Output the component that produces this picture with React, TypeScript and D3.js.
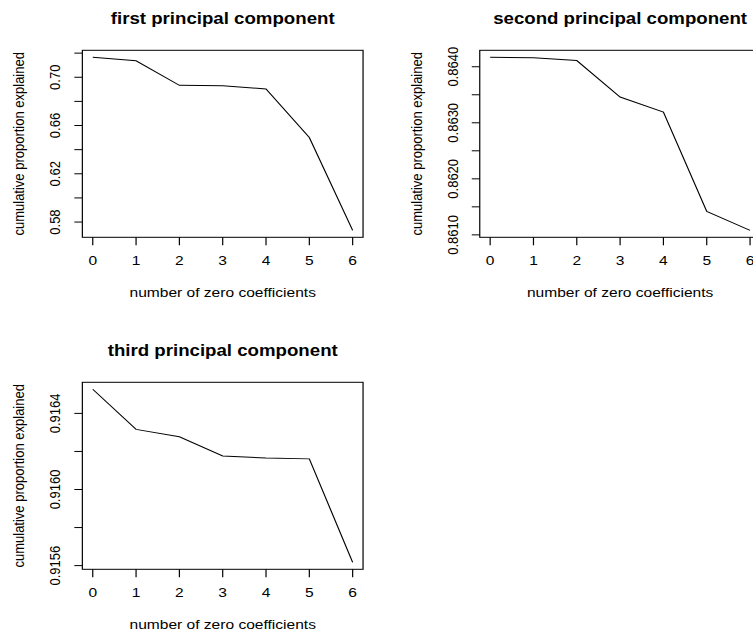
import React from 'react';
import * as d3 from 'd3';

// number of zero coefficients (x axis)
const zeroCoefs = [0, 1, 2, 3, 4, 5, 6];

// cumulative proportion explained
const firstPC = [0.7166, 0.7136, 0.6933, 0.693, 0.6903, 0.6501, 0.5731];
const secondPC = [0.86417, 0.86416, 0.86411, 0.86346, 0.86319, 0.86142, 0.86108];
const thirdPC = [0.916527, 0.916316, 0.916277, 0.916176, 0.916166, 0.916161, 0.915617];

// y ticks and which of them carry a label (R drops overlapping ones)
const firstTicks = [0.58, 0.6, 0.62, 0.64, 0.66, 0.68, 0.7, 0.72];
const firstLabels = ['0.58', '0.62', '0.66', '0.70'];
const secondTicks = [0.861, 0.8615, 0.862, 0.8625, 0.863, 0.8635, 0.864];
const secondLabels = ['0.8610', '0.8620', '0.8630', '0.8640'];
const thirdTicks = [0.9156, 0.9158, 0.916, 0.9162, 0.9164];
const thirdLabels = ['0.9156', '0.9160', '0.9164'];

const titles = ['first principal component', 'second principal component', 'third principal component'];
const xTitle = 'number of zero coefficients';
const yTitle = 'cumulative proportion explained';

// the picture is stretched sideways a little, so draw in square panels and scale x
const SX = 1.197;
const PANEL = 332;
const box = { left: 68.8, top: 50.3, width: 234.5, height: 187 };
const font = 'Liberation Sans, Arial, Helvetica, sans-serif';

function padded(vals: number[]) {
  const [lo, hi] = d3.extent(vals) as [number, number];
  const d = (hi - lo) * 0.04;
  return [lo - d, hi + d];
}

function Panel({ ox, oy, title, values, ticks, labels }: any) {
  const x = d3.scaleLinear().domain(padded(zeroCoefs)).range([box.left, box.left + box.width]);
  const y = d3.scaleLinear().domain(padded(values)).range([box.top + box.height, box.top]);
  const path = d3.line<number>().x((_, i) => x(zeroCoefs[i])).y(v => y(v))(values);
  const bottom = box.top + box.height;
  const cx = box.left + box.width / 2;
  const cy = box.top + box.height / 2;
  const ylab = box.left - 27.3 / SX;
  const ytitle = box.left - 63.3 / SX;

  return (
    <g transform={`translate(${ox},${oy})`} fontFamily={font}>
      <text x={cx} y={box.top - 32} textAnchor="middle" dominantBaseline="central"
        fontSize={15.6} fontWeight="bold">{title}</text>
      <rect x={box.left} y={box.top} width={box.width} height={box.height}
        fill="none" stroke="#000" strokeWidth={1} />
      {zeroCoefs.map(t => (
        <g key={t}>
          <line x1={x(t)} x2={x(t)} y1={bottom} y2={bottom + 8} stroke="#000" />
          <text x={x(t)} y={bottom + 23.5} textAnchor="middle" dominantBaseline="central" fontSize={13}>{t}</text>
        </g>
      ))}
      {ticks.map((t: number) => (
        <line key={t} x1={box.left - 8 / SX} x2={box.left} y1={y(t)} y2={y(t)} stroke="#000" />
      ))}
      {labels.map((l: string) => (
        <text key={l} transform={`translate(${ylab},${y(+l)}) rotate(-90)`} textAnchor="middle"
          dominantBaseline="central" fontSize={13}>{l}</text>
      ))}
      <path d={path || ''} fill="none" stroke="#000" strokeWidth={1} />
      <text x={cx} y={bottom + 55} textAnchor="middle" dominantBaseline="central" fontSize={13}>{xTitle}</text>
      <text transform={`translate(${ytitle},${cy}) rotate(-90)`} textAnchor="middle"
        dominantBaseline="central" fontSize={13}>{yTitle}</text>
    </g>
  );
}

export default function App() {
  return (
    <svg width={753} height={633} style={{ position: 'absolute', left: 0, top: 0, background: '#fff' }}>
      <rect width={753} height={633} fill="#fff" />
      <g transform={`scale(${SX},1)`}>
        <Panel ox={0} oy={0} title={titles[0]} values={firstPC} ticks={firstTicks} labels={firstLabels} />
        <Panel ox={PANEL} oy={0} title={titles[1]} values={secondPC} ticks={secondTicks} labels={secondLabels} />
        <Panel ox={0} oy={PANEL} title={titles[2]} values={thirdPC} ticks={thirdTicks} labels={thirdLabels} />
      </g>
    </svg>
  );
}
